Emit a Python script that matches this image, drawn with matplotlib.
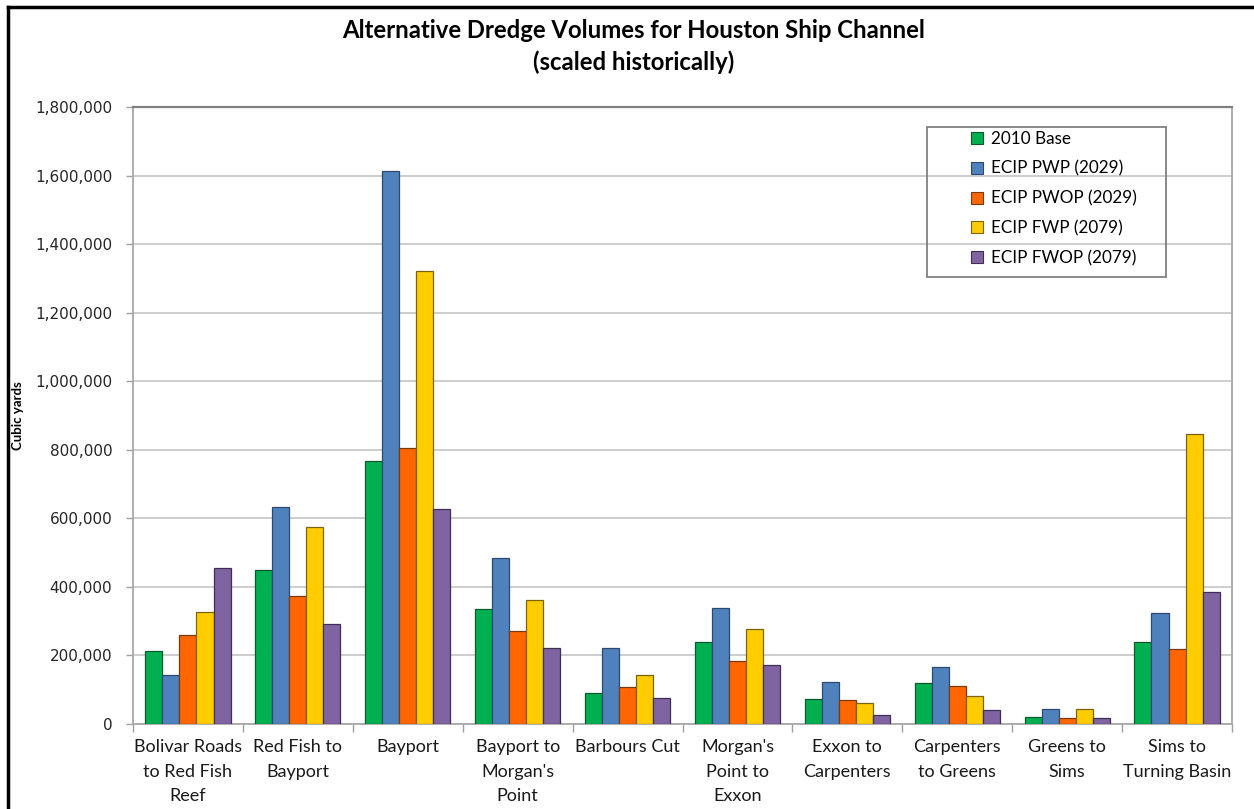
import matplotlib
matplotlib.use('Agg')
import matplotlib.pyplot as plt
from matplotlib.patches import Rectangle, Patch
from matplotlib.ticker import FuncFormatter, MultipleLocator, FixedLocator
import numpy as np

categories = ["Bolivar Roads\nto Red Fish\nReef", "Red Fish to\nBayport", "Bayport",
              "Bayport to\nMorgan's\nPoint", "Barbours Cut", "Morgan's\nPoint to\nExxon",
              "Exxon to\nCarpenters", "Carpenters\nto Greens", "Greens to\nSims",
              "Sims to\nTurning Basin"]

series_names = ["2010 Base", "ECIP PWP (2029)", "ECIP PWOP (2029)",
                "ECIP FWP (2079)", "ECIP FWOP (2079)"]

base_2010 = [212000, 449000, 766000, 335000, 90000, 238000, 73000, 120000, 20000, 240000]
pwp_2029 = [142000, 632000, 1614000, 483000, 222000, 337000, 123000, 165000, 44000, 325000]
pwop_2029 = [260000, 372000, 805000, 270000, 107000, 184000, 70000, 112000, 18000, 219000]
fwp_2079 = [327000, 576000, 1322000, 361000, 143000, 277000, 61000, 82000, 44000, 845000]
fwop_2079 = [454000, 292000, 626000, 222000, 75000, 173000, 25000, 40000, 18000, 385000]

colors = ['#00B050', '#4F81BD', '#FF6600', '#FFCC00', '#8064A2']
edges = ['#0B5A2E', '#2C4A70', '#7A3A10', '#7A6410', '#3E2F55']

fig = plt.figure(figsize=(12.54, 8.09), dpi=100)
ax = fig.add_axes([133 / 1254, 85 / 809, 1099 / 1254, 617 / 809])

x = np.arange(len(categories))
w = 0.155
all_series = [base_2010, pwp_2029, pwop_2029, fwp_2079, fwop_2079]
for i, vals in enumerate(all_series):
    ax.bar(x + (i - 2) * w, vals, width=w, color=colors[i],
           edgecolor=edges[i], linewidth=0.9, zorder=3)

ax.set_xlim(-0.5, len(categories) - 0.5)
ax.set_ylim(0, 1800000)
ax.yaxis.set_major_locator(MultipleLocator(200000))
ax.yaxis.set_major_formatter(FuncFormatter(lambda v, p: f"{int(v):,}"))
ax.grid(axis='y', color='#CDCDCD', linewidth=1.4, zorder=0)

ax.set_xticks(x)
ax.set_xticklabels(categories, family='Lato', fontsize=13, color='#1a1a1a',
                   linespacing=1.65)
ax.tick_params(axis='x', which='major', length=0, pad=11)
ax.xaxis.set_minor_locator(FixedLocator(np.arange(-0.5, len(categories), 1)))
ax.tick_params(axis='x', which='minor', length=6, color='#A0A0A0', width=1)
ax.tick_params(axis='y', length=5, color='#A0A0A0', width=1, pad=10,
               labelsize=11, labelcolor='#262626')

for side in ['left', 'bottom', 'right']:
    ax.spines[side].set_color('#A8A8A8')
    ax.spines[side].set_linewidth(1.3)
ax.spines['top'].set_color('#808080')
ax.spines['top'].set_linewidth(1.6)

ax.set_ylabel("Cubic yards", family='Lato', fontweight='bold', fontsize=9.5,
              labelpad=0)
ax.yaxis.set_label_coords(-(133 - 24) / 1099, 0.5)

fig.text(0.505, 1 - 30 / 809, "Alternative Dredge Volumes for Houston Ship Channel",
         ha='center', va='center', family='Lato', fontweight='bold', fontsize=17.2)
fig.text(0.505, 1 - 62 / 809, "(scaled historically)",
         ha='center', va='center', family='Lato', fontweight='bold', fontsize=17.2)

# legend
handles = [Patch(facecolor=c, edgecolor=e, linewidth=0.8) for c, e in zip(colors, edges)]
ax.legend(handles, series_names, loc='upper left',
          bbox_to_anchor=((971 - 133) / 1099, (724 - 131) / 617),
          frameon=False, prop={'family': 'Lato', 'size': 12.3},
          handlelength=0.7, handleheight=0.7, handletextpad=0.45,
          labelspacing=0.8, borderpad=0, borderaxespad=0)
ax.add_patch(Rectangle(((927 - 133) / 1099, (724 - 277) / 617), 239 / 1099, 150 / 617,
                       transform=ax.transAxes, fill=False, edgecolor='#808080',
                       linewidth=1.3, zorder=5))

# page frame lines (top and left)
fig.add_artist(plt.Line2D([8 / 1254, 1], [1 - 7 / 809, 1 - 7 / 809], color='black', linewidth=2.5))
fig.add_artist(plt.Line2D([8 / 1254, 8 / 1254], [0, 1 - 7 / 809], color='black', linewidth=2.5))

fig.savefig('out.png', dpi=100)
